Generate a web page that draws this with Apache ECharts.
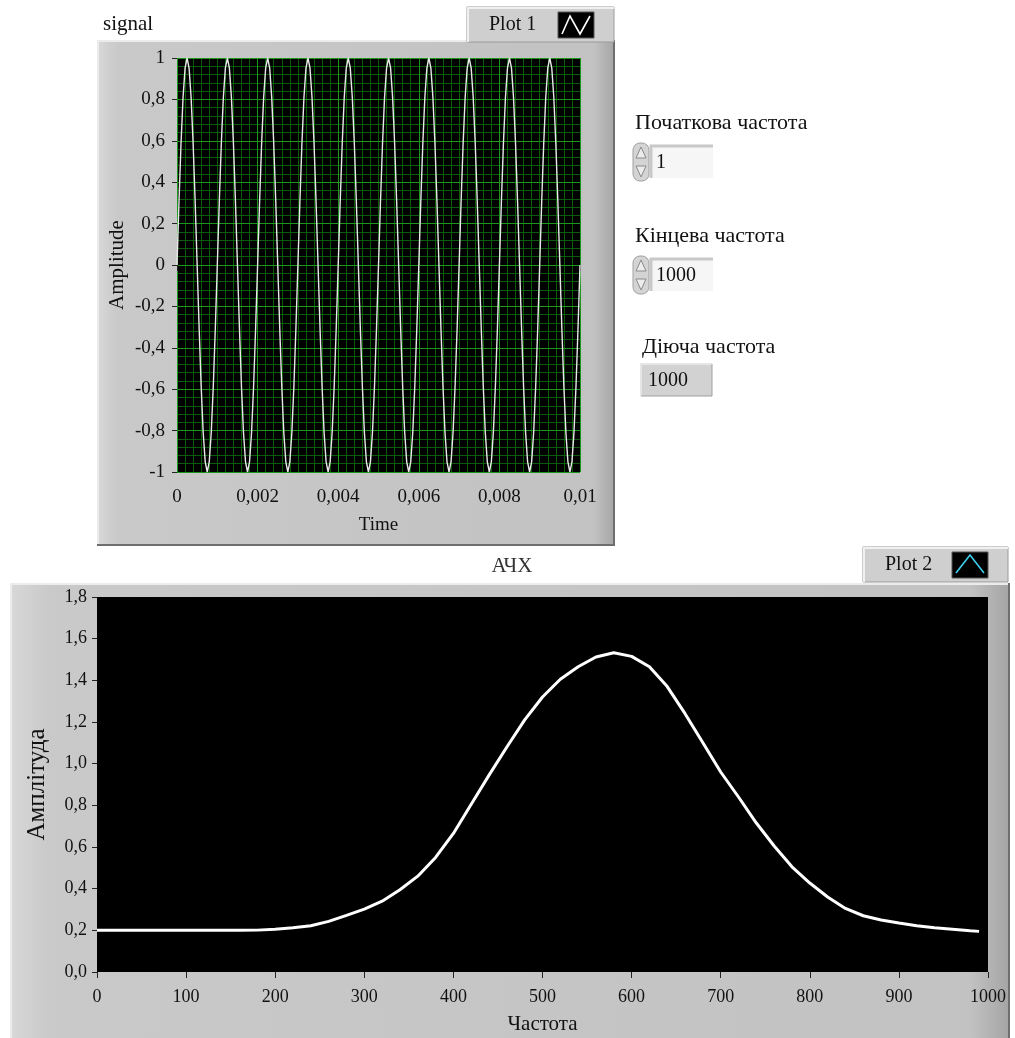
<!DOCTYPE html>
<html>
<head>
<meta charset="utf-8">
<script src="https://cdn.jsdelivr.net/npm/echarts@6/dist/echarts.min.js"></script>
<style>
  html, body { margin: 0; padding: 0; background: #ffffff; }
  #chart { width: 1015px; height: 1038px; }
</style>
</head>
<body>
<div id="chart"></div>
<script>
// Time-domain test signal: 1000 Hz tone, sampled every 50 µs over 10 ms
const signalDt = 0.00005;
const signalValues = [
  0, 0.309, 0.588, 0.809, 0.951, 1, 0.951, 0.809, 0.588, 0.309, 0, -0.309, -0.588, -0.809, -0.951, -1, -0.951, -0.809, -0.588, -0.309,
  0, 0.309, 0.588, 0.809, 0.951, 1, 0.951, 0.809, 0.588, 0.309, 0, -0.309, -0.588, -0.809, -0.951, -1, -0.951, -0.809, -0.588, -0.309,
  0, 0.309, 0.588, 0.809, 0.951, 1, 0.951, 0.809, 0.588, 0.309, 0, -0.309, -0.588, -0.809, -0.951, -1, -0.951, -0.809, -0.588, -0.309,
  0, 0.309, 0.588, 0.809, 0.951, 1, 0.951, 0.809, 0.588, 0.309, 0, -0.309, -0.588, -0.809, -0.951, -1, -0.951, -0.809, -0.588, -0.309,
  0, 0.309, 0.588, 0.809, 0.951, 1, 0.951, 0.809, 0.588, 0.309, 0, -0.309, -0.588, -0.809, -0.951, -1, -0.951, -0.809, -0.588, -0.309,
  0, 0.309, 0.588, 0.809, 0.951, 1, 0.951, 0.809, 0.588, 0.309, 0, -0.309, -0.588, -0.809, -0.951, -1, -0.951, -0.809, -0.588, -0.309,
  0, 0.309, 0.588, 0.809, 0.951, 1, 0.951, 0.809, 0.588, 0.309, 0, -0.309, -0.588, -0.809, -0.951, -1, -0.951, -0.809, -0.588, -0.309,
  0, 0.309, 0.588, 0.809, 0.951, 1, 0.951, 0.809, 0.588, 0.309, 0, -0.309, -0.588, -0.809, -0.951, -1, -0.951, -0.809, -0.588, -0.309,
  0, 0.309, 0.588, 0.809, 0.951, 1, 0.951, 0.809, 0.588, 0.309, 0, -0.309, -0.588, -0.809, -0.951, -1, -0.951, -0.809, -0.588, -0.309,
  0, 0.309, 0.588, 0.809, 0.951, 1, 0.951, 0.809, 0.588, 0.309, 0, -0.309, -0.588, -0.809, -0.951, -1, -0.951, -0.809, -0.588, -0.309,
  0
];

// Frequency response (АЧХ): frequency in Hz and amplitude
const responseFreq = [
  0, 20, 40, 60, 80, 100, 120, 140, 160, 180, 200, 220, 240, 260, 280, 300, 320, 340, 360, 380,
  400, 420, 440, 460, 480, 500, 520, 540, 560, 580, 600, 620, 640, 660, 680, 700, 720, 740, 760, 780,
  800, 820, 840, 860, 880, 900, 920, 940, 960, 980, 990
];
const responseAmp = [
  0.2, 0.2, 0.2, 0.2, 0.2, 0.2, 0.2, 0.2, 0.2, 0.201, 0.205, 0.212, 0.222, 0.243, 0.272, 0.302, 0.34, 0.395, 0.46, 0.55,
  0.665, 0.805, 0.945, 1.08, 1.21, 1.32, 1.405, 1.465, 1.512, 1.532, 1.515, 1.465, 1.37, 1.24, 1.10, 0.96, 0.84, 0.715, 0.605, 0.505,
  0.427, 0.36, 0.305, 0.27, 0.25, 0.235, 0.222, 0.212, 0.205, 0.198, 0.195
];

// Front-panel controls
const startFreqLabel = 'Початкова частота';
const startFreqValue = '1';
const endFreqLabel = 'Кінцева частота';
const endFreqValue = '1000';
const currentFreqLabel = 'Діюча частота';
const currentFreqValue = '1000';

const SERIF = '"Liberation Serif", "DejaVu Serif", serif';
const TXT = '#111111';
const MAJOR_GRID = '#1c961c';
const MINOR_GRID = '#0c5c0c';

const comma = s => s.replace('.', ',');
const fmtTime = v => comma(String(+v.toFixed(4)));
const fmtSignal = v => comma(String(Math.round(v * 10) / 10));
const fmtAmp = v => comma(v.toFixed(1));

const signalData = signalValues.map((v, i) => [i * signalDt, v]);
const responseData = responseFreq.map((f, i) => [f, responseAmp[i]]);

const chart = echarts.init(document.getElementById('chart'), null, { renderer: 'canvas' });

// Grey LabVIEW-style panel with bevelled edges
function panel(x, y, w, h) {
  return [
    { type: 'rect', z: -10, shape: { x: x, y: y, width: w, height: h },
      style: { fill: new echarts.graphic.LinearGradient(0, 0, 1, 0, [
        { offset: 0, color: '#d8d8d8' }, { offset: 0.04, color: '#c9c9c9' },
        { offset: 0.96, color: '#c2c2c2' }, { offset: 1, color: '#a4a4a4' }]) } },
    { type: 'polyline', z: -9, shape: { points: [[x + 1, y + h], [x + 1, y + 1], [x + w, y + 1]] },
      style: { stroke: '#ececec', lineWidth: 2, fill: null } },
    { type: 'polyline', z: -9, shape: { points: [[x, y + h - 1], [x + w - 1, y + h - 1], [x + w - 1, y]] },
      style: { stroke: '#6e6e6e', lineWidth: 2, fill: null } }
  ];
}

function legendBox(x, y, w, h, text, iconPts, iconColor) {
  return [
    { type: 'rect', z: -8, shape: { x: x, y: y, width: w, height: h },
      style: { fill: '#cfcfcf', stroke: '#9a9a9a', lineWidth: 1 } },
    { type: 'polyline', z: -7, shape: { points: [[x + 1, y + h], [x + 1, y + 1], [x + w, y + 1]] },
      style: { stroke: '#f0f0f0', lineWidth: 2, fill: null } },
    { type: 'text', z: 50, style: { text: text, x: x + 22, y: y + h / 2, verticalAlign: 'middle',
      font: '20px ' + SERIF, fill: TXT } },
    { type: 'rect', z: 50, shape: { x: x + w - 56, y: y + 5, width: 36, height: h - 9 },
      style: { fill: '#000000', stroke: '#555', lineWidth: 1 } },
    { type: 'polyline', z: 51, shape: { points: iconPts.map(p => [x + w - 56 + p[0], y + 5 + p[1]]) },
      style: { stroke: iconColor, lineWidth: 1.6, fill: null } }
  ];
}

function label(text, x, y, opts) {
  return { type: 'text', z: 50, style: Object.assign({ text: text, x: x, y: y, verticalAlign: 'middle',
    font: '22px ' + SERIF, fill: TXT }, opts || {}) };
}

function spinBox(x, y, value) {
  return [
    // up/down arrows
    { type: 'rect', z: 40, shape: { x: x, y: y, width: 16, height: 38, r: 7 },
      style: { fill: '#d4d4d4', stroke: '#a0a0a0', lineWidth: 1 } },
    { type: 'polygon', z: 41, shape: { points: [[x + 8, y + 4], [x + 3, y + 15], [x + 13, y + 15]] },
      style: { fill: '#ececec', stroke: '#8a8a8a', lineWidth: 1 } },
    { type: 'polygon', z: 41, shape: { points: [[x + 8, y + 34], [x + 3, y + 23], [x + 13, y + 23]] },
      style: { fill: '#ececec', stroke: '#8a8a8a', lineWidth: 1 } },
    // entry field
    { type: 'rect', z: 40, shape: { x: x + 18, y: y + 2, width: 62, height: 33 },
      style: { fill: '#f6f6f6' } },
    { type: 'polyline', z: 41, shape: { points: [[x + 18, y + 35], [x + 18, y + 3], [x + 80, y + 3]] },
      style: { stroke: '#c8c8c8', lineWidth: 3, fill: null } },
    label(value, x + 23, y + 20, { font: '20px ' + SERIF })
  ];
}

const graphics = []
  .concat(panel(97, 40, 518, 506))
  .concat(legendBox(467, 7, 147, 35, 'Plot 1', [[4, 22], [12, 4], [22, 22], [32, 4]], '#ffffff'))
  .concat([label('signal', 103, 24, { font: '21px ' + SERIF })])
  .concat(panel(10, 583, 1000, 470))
  .concat(legendBox(863, 547, 145, 35, 'Plot 2', [[4, 21], [18, 3], [32, 21]], '#3fd0ef'))
  .concat([label('АЧХ', 512, 566, { textAlign: 'center', font: '21px ' + SERIF, fill: '#333' })])
  .concat([label(startFreqLabel, 635, 123)])
  .concat(spinBox(633, 143, startFreqValue))
  .concat([label(endFreqLabel, 635, 236)])
  .concat(spinBox(633, 256, endFreqValue))
  .concat([label(currentFreqLabel, 642, 347)])
  .concat([
    { type: 'rect', z: 40, shape: { x: 640, y: 363, width: 72, height: 33 },
      style: { fill: '#d2d2d2' } },
    { type: 'polyline', z: 41, shape: { points: [[641, 396], [641, 364], [712, 364]] },
      style: { stroke: '#e6e6e6', lineWidth: 2, fill: null } },
    { type: 'polyline', z: 41, shape: { points: [[641, 396], [712, 396], [712, 364]] },
      style: { stroke: '#a0a0a0', lineWidth: 1, fill: null } },
    label(currentFreqValue, 648, 381, { font: '20px ' + SERIF })
  ]);

const topText = { color: TXT, fontFamily: SERIF, fontSize: 19 };
const bottomText = { color: TXT, fontFamily: SERIF, fontSize: 18 };
const tickStyle = { color: '#222', width: 1 };

// Unlabelled axis that only contributes the fine grid of the signal plot
function minorGridAxis(min, max, step) {
  return {
    gridIndex: 0, type: 'value', min: min, max: max, interval: step, z: 1,
    axisLine: { show: false }, axisTick: { show: false }, axisLabel: { show: false },
    splitLine: { show: true, lineStyle: { color: MINOR_GRID, width: 1, opacity: 1 } }
  };
}

chart.setOption({
  animation: false,
  backgroundColor: '#ffffff',
  graphic: { elements: graphics },
  grid: [
    { left: 177, right: 435, top: 58, bottom: 566, show: true, backgroundColor: '#000000', borderWidth: 0, z: 0 },
    { left: 97, right: 27, top: 597, bottom: 66, show: true, backgroundColor: '#000000', borderWidth: 0, z: 0 }
  ],
  xAxis: [
    {
      gridIndex: 0, type: 'value', min: 0, max: 0.01, interval: 0.002, offset: 4, z: 2,
      name: 'Time', nameLocation: 'middle', nameGap: 40,
      nameTextStyle: { color: TXT, fontFamily: SERIF, fontSize: 19 },
      axisLine: { show: false },
      axisTick: { show: true, length: 6, lineStyle: tickStyle },
      axisLabel: Object.assign({ margin: 12, formatter: fmtTime }, topText),
      splitLine: { show: true, lineStyle: { color: MAJOR_GRID, width: 1 } }
    },
    {
      gridIndex: 1, type: 'value', min: 0, max: 1000, interval: 100, offset: 4, z: 2,
      name: 'Частота', nameLocation: 'middle', nameGap: 38,
      nameTextStyle: { color: TXT, fontFamily: SERIF, fontSize: 21 },
      axisLine: { show: false },
      axisTick: { show: true, length: 6, lineStyle: tickStyle },
      axisLabel: Object.assign({ margin: 12, formatter: v => String(v) }, bottomText),
      splitLine: { show: false }
    },
    minorGridAxis(0, 0.01, 0.0002)
  ],
  yAxis: [
    {
      gridIndex: 0, type: 'value', min: -1, max: 1, interval: 0.2, offset: 2, z: 2,
      name: 'Amplitude', nameLocation: 'middle', nameGap: 47,
      nameTextStyle: { color: TXT, fontFamily: SERIF, fontSize: 21 },
      axisLine: { show: false },
      axisTick: { show: true, length: 5, lineStyle: tickStyle },
      axisLabel: Object.assign({ margin: 10, formatter: fmtSignal }, topText),
      splitLine: { show: true, lineStyle: { color: MAJOR_GRID, width: 1 } }
    },
    {
      gridIndex: 1, type: 'value', min: 0, max: 1.8, interval: 0.2, offset: 2, z: 2,
      name: 'Амплітуда', nameLocation: 'middle', nameGap: 45,
      nameTextStyle: { color: TXT, fontFamily: SERIF, fontSize: 25 },
      axisLine: { show: false },
      axisTick: { show: true, length: 5, lineStyle: tickStyle },
      axisLabel: Object.assign({ margin: 8, formatter: fmtAmp }, bottomText),
      splitLine: { show: false }
    },
    minorGridAxis(-1, 1, 0.04)
  ],
  series: [
    {
      type: 'line', xAxisIndex: 0, yAxisIndex: 0, data: signalData,
      showSymbol: false, symbol: 'none', z: 5,
      lineStyle: { color: '#e8e8e8', width: 1.4 }
    },
    {
      type: 'line', xAxisIndex: 1, yAxisIndex: 1, data: responseData,
      showSymbol: false, symbol: 'none', z: 5,
      lineStyle: { color: '#ffffff', width: 3 }
    }
  ]
});
</script>
</body>
</html>
